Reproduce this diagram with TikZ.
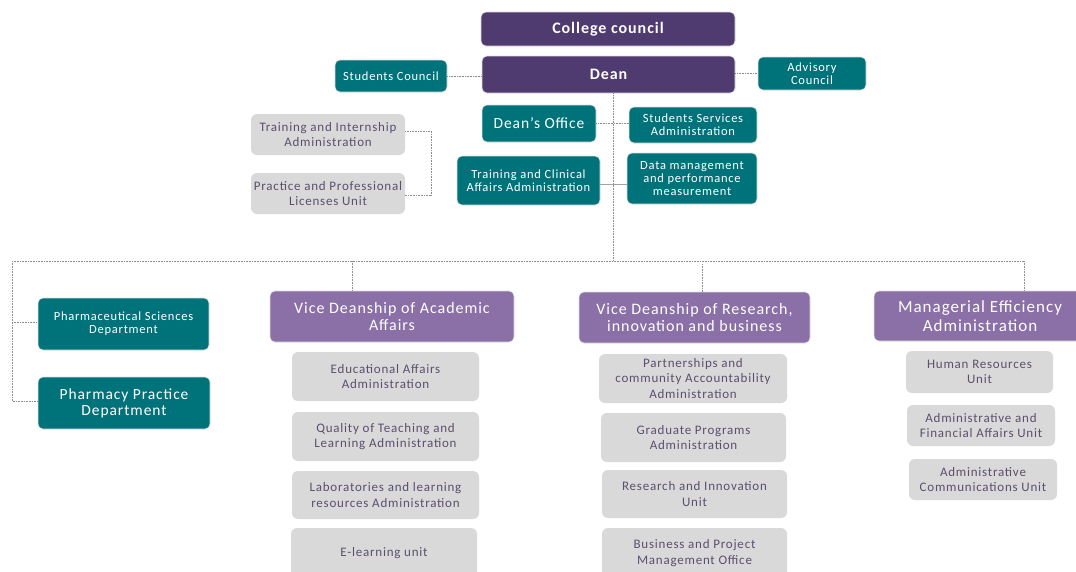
\documentclass[tikz,border=0pt]{standalone}
\usepackage{fontspec}
\setmainfont{Carlito}[LetterSpace=6]
\definecolor{dpurple}{HTML}{4F3B6F}
\definecolor{lpurple}{HTML}{8B6FA7}
\definecolor{teal1}{HTML}{00737A}
\definecolor{gbox}{HTML}{D9D9D9}
\definecolor{gtext}{HTML}{5B4F6E}
\definecolor{lnc}{HTML}{8C8C8C}
\tikzset{
  base/.style={rounded corners=5pt, align=center, inner sep=1pt, draw=white!75!gray, line width=0.6pt},
  dbox/.style={base, fill=dpurple, text=white, font=\fontsize{16}{18}\selectfont\bfseries},
  tbox/.style={base, fill=teal1, text=white, font=\fontsize{12.5}{13}\selectfont},
  tbig/.style={tbox, font=\fontsize{15.5}{16}\selectfont},
  pbox/.style={base, fill=lpurple, text=white, font=\fontsize{16}{17}\selectfont},
  gbx/.style={rounded corners=6pt, align=center, inner sep=1pt, fill=gbox, draw=none, text=gtext, font=\fontsize{13}{15.5}\selectfont},
  dotl/.style={draw=lnc, line width=0.7pt, dash pattern=on 0.8pt off 0.8pt},
  soll/.style={draw=lnc!80, line width=0.8pt},
}
\begin{document}
\begin{tikzpicture}[x=1pt,y=-1pt]
\useasboundingbox (0,0) rectangle (1076,571);
\clip (0,0) rectangle (1076,571);
\fill[white] (0,0) rectangle (1076,571);
% top
\node[dbox, minimum width=254pt, minimum height=34pt] (college) at (608,29) {College council};
\node[dbox, minimum width=253pt, minimum height=37pt] (dean) at (608.5,74.5) {Dean};
\node[tbox, minimum width=112pt, minimum height=32pt] (stcouncil) at (391,76) {Students Council};
\node[tbox, minimum width=108pt, minimum height=33pt] (advisory) at (812,73.5) {Advisory\\Council};
\node[tbig, minimum width=114pt, minimum height=37pt] (deansoffice) at (539,123.5) {Dean’s Office};
\node[tbox, minimum width=128pt, minimum height=36pt] (stservices) at (693,125) {Students Services\\Administration};
\node[tbox, minimum width=143pt, minimum height=49pt] (trainclin) at (528.5,180.5) {Training and Clinical\\Affairs Administration};
\node[tbox, minimum width=130pt, minimum height=51pt] (datamgmt) at (692,178.5) {Data management\\and performance\\measurement};
\node[gbx, minimum width=154pt, minimum height=41pt] (trainintern) at (328,134.5) {Training and Internship\\Administration};
\node[gbx, minimum width=154pt, minimum height=41pt] (practice) at (328,193.5) {Practice and Professional\\Licenses Unit};
% departments
\node[tbox, minimum width=171pt, minimum height=52pt] (pharmsci) at (123.5,324) {Pharmaceutical Sciences\\Department};
\node[tbig, minimum width=172pt, minimum height=52pt] (pharmprac) at (124,403) {Pharmacy Practice\\Department};
% academic
\node[pbox, minimum width=244pt, minimum height=51pt] (vdacad) at (392,316.5) {Vice Deanship of Academic\\Affairs};
\node[gbx, minimum width=187pt, minimum height=49pt] (edu) at (385.5,376.5) {Educational Affairs\\Administration};
\node[gbx, minimum width=187pt, minimum height=49pt] (quality) at (385.5,436.5) {Quality of Teaching and\\Learning Administration};
\node[gbx, minimum width=187pt, minimum height=48pt] (labs) at (385.5,495) {Laboratories and learning\\resources Administration};
\node[gbx, minimum width=186pt, minimum height=50pt] (elearn) at (384,553) {E-learning unit};
% research
\node[pbox, minimum width=231pt, minimum height=51pt] (vdres) at (694.5,317.5) {Vice Deanship of Research,\\innovation and business};
\node[gbx, minimum width=188pt, minimum height=49pt] (partner) at (693,378.5) {Partnerships and\\community Accountability\\Administration};
\node[gbx, minimum width=185pt, minimum height=49pt] (grad) at (693.5,437.5) {Graduate Programs\\Administration};
\node[gbx, minimum width=185pt, minimum height=48pt] (resinn) at (694.5,494) {Research and Innovation\\Unit};
\node[gbx, minimum width=185pt, minimum height=50pt] (business) at (694.5,553) {Business and Project\\Management Office};
% managerial
\node[pbox, minimum width=212pt, minimum height=50pt, font=\fontsize{17}{18.5}\selectfont] (manag) at (980,316) {Managerial Efficiency\\Administration};
\node[gbx, minimum width=147pt, minimum height=42pt] (hr) at (979.5,372) {Human Resources\\Unit};
\node[gbx, minimum width=148pt, minimum height=41pt] (adminfin) at (981,425.5) {Administrative and\\Financial Affairs Unit};
\node[gbx, minimum width=148pt, minimum height=41pt] (admincomm) at (983,479.5) {Administrative\\Communications Unit};
% connectors
\coordinate (trunk) at (613,261);
\coordinate (leftc) at (12,261);
\coordinate (rightc) at (1024,261);
\coordinate (acadc) at (352,261);
\coordinate (resc) at (702,264);
\coordinate (leftbot) at (12,401);
\coordinate (leftmid) at (12,322);
\coordinate (brk1) at (431,131);
\coordinate (brk2) at (431,195);
\draw[dotl] (stcouncil.east) -- (stcouncil.east -| dean.west);
\draw[dotl] (dean.east |- advisory.west) -- (advisory.west);
\draw[dotl] (deansoffice.east) -- (deansoffice.east -| stservices.west);
\draw[soll] (trainclin.east |- 0,184) -- (datamgmt.west |- 0,184);
\draw[dotl] (dean.south -| trunk) -- (trunk);
\draw[dotl] (leftc) -- (rightc);
\draw[dotl] (leftc) -- (leftbot) -- (leftbot -| pharmprac.west);
\draw[dotl] (leftmid) -- (leftmid -| pharmsci.west);
\draw[dotl] (acadc) -- (vdacad.north -| acadc);
\draw[dotl] (resc) -- (vdres.north -| resc);
\draw[dotl] (rightc) -- (manag.north -| rightc);
\draw[dotl] (trainintern.east |- brk1) -- (brk1) -- (brk2) -- (practice.east |- brk2);
\end{tikzpicture}
\end{document}
